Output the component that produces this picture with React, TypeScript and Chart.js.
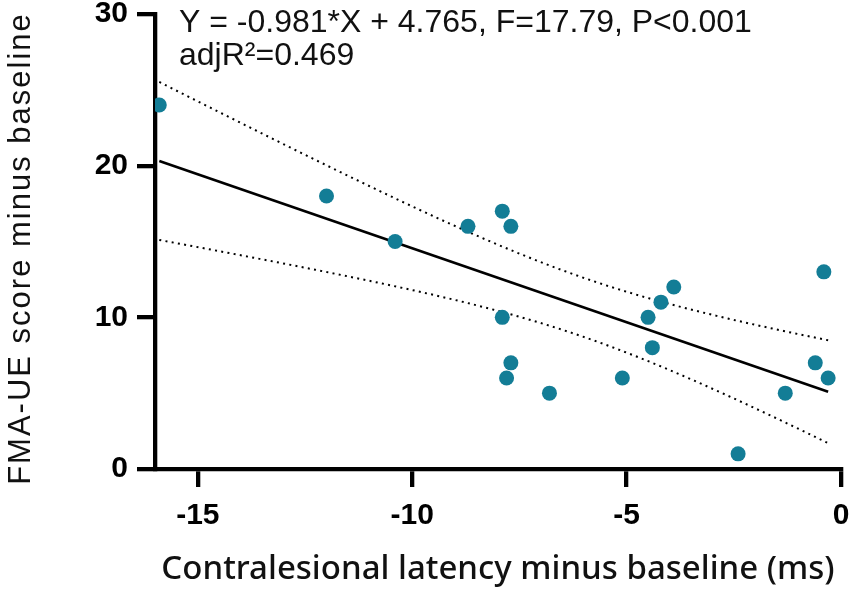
import React, { useEffect, useRef } from "react";
import { Chart, registerables } from "chart.js";

Chart.register(...registerables);

// Data
const latencyDiff: number[] = [
  -15.9, -12.0, -10.4, -8.7, -7.9, -7.7, -0.4, -3.9, -4.2, -4.5,
  -7.9, -4.4, -7.7, -0.6, -7.8, -5.1, -0.3, -6.8, -1.3, -2.4,
];
const fmaDiff: number[] = [
  24, 18, 15, 16, 17, 16, 13, 12, 11, 10,
  10, 8, 7, 7, 6, 6, 6, 5, 5, 1,
];
const xTicks: number[] = [-15, -10, -5, 0];
const yTicks: number[] = [0, 10, 20, 30];
const xRange: number[] = [-16, 0];
const yRange: number[] = [0, 30];
const annotationLines: string[] = [
  "Y = -0.981*X + 4.765, F=17.79, P<0.001",
  "adjR\u00B2=0.469",
];
const xTitle = "Contralesional latency minus baseline (ms)";
const yTitle = "FMA-UE score minus baseline";
const tCrit = 2.101; // t(0.975, df=18)

function regression(xs: number[], ys: number[]) {
  const n = xs.length;
  const mx = xs.reduce((a, b) => a + b, 0) / n;
  const my = ys.reduce((a, b) => a + b, 0) / n;
  let sxx = 0, sxy = 0;
  for (let i = 0; i < n; i++) {
    sxx += (xs[i] - mx) ** 2;
    sxy += (xs[i] - mx) * (ys[i] - my);
  }
  const slope = sxy / sxx;
  const intercept = my - slope * mx;
  let sse = 0;
  for (let i = 0; i < n; i++) sse += (ys[i] - (intercept + slope * xs[i])) ** 2;
  const s = Math.sqrt(sse / (n - 2));
  return { n, mx, sxx, slope, intercept, s };
}

const textPlugin = {
  id: "texts",
  afterDraw(chart: any) {
    const ctx = chart.ctx;
    const area = chart.chartArea;
    ctx.save();
    ctx.fillStyle = "#111";
    ctx.font = "32px 'Liberation Sans', Arial, sans-serif";
    ctx.textBaseline = "alphabetic";
    ctx.textAlign = "left";
    const x0 = area.left + 24;
    ctx.fillText(annotationLines[0], x0, 32);
    ctx.fillText(annotationLines[1], x0, 65);
    // y axis title
    ctx.translate(30, (area.top + area.bottom) / 2 + 7);
    ctx.rotate(-Math.PI / 2);
    ctx.textAlign = "center";
    ctx.font = "31px 'Liberation Sans', Arial, sans-serif";
    try {
      (ctx as any).letterSpacing = "2px";
    } catch (e) {}
    ctx.fillText(yTitle, 0, 0);
    ctx.restore();
  },
};

export default function App() {
  const ref = useRef<HTMLCanvasElement | null>(null);
  useEffect(() => {
    document.body.style.margin = "0";
    const canvas = ref.current!;
    const r = regression(latencyDiff, fmaDiff);
    const xmin = Math.min(...latencyDiff);
    const xmax = Math.max(...latencyDiff);
    const fit = [xmin, xmax].map((x) => ({ x, y: r.intercept + r.slope * x }));
    const upper: { x: number; y: number }[] = [];
    const lower: { x: number; y: number }[] = [];
    const steps = 60;
    for (let i = 0; i <= steps; i++) {
      const x = xmin + ((xmax - xmin) * i) / steps;
      const yhat = r.intercept + r.slope * x;
      const hw = tCrit * r.s * Math.sqrt(1 / r.n + (x - r.mx) ** 2 / r.sxx);
      upper.push({ x, y: yhat + hw });
      lower.push({ x, y: yhat - hw });
    }
    const points = latencyDiff.map((x, i) => ({ x, y: fmaDiff[i] }));

    const bandStyle = {
      type: "line",
      borderColor: "#000",
      borderWidth: 2,
      borderDash: [2, 4.3],
      pointRadius: 0,
      fill: false,
      order: 3,
    };

    const tickFont = { family: "'Liberation Sans', Arial, sans-serif", size: 30, weight: "bold", lineHeight: 1 };
    const gridStyle = {
      display: true,
      drawOnChartArea: false,
      drawTicks: true,
      lineWidth: 4.3,
      tickLength: 18,
      tickWidth: 4.3,
      tickColor: "#000",
      color: "#000",
    };

    const chart = new Chart(canvas, {
      type: "scatter",
      data: {
        datasets: [
          { ...bandStyle, data: upper } as any,
          { ...bandStyle, data: lower } as any,
          {
            type: "line",
            data: fit,
            borderColor: "#000",
            borderWidth: 2.6,
            pointRadius: 0,
            fill: false,
            order: 2,
          } as any,
          {
            data: points,
            backgroundColor: "#137d96",
            borderColor: "#137d96",
            pointRadius: 7.5,
            borderWidth: 0,
            order: 1,
          },
        ],
      },
      options: {
        responsive: false,
        animation: false,
        devicePixelRatio: 1,
        layout: { padding: { left: 0, right: 10, top: 14, bottom: 0 } },
        plugins: { legend: { display: false }, tooltip: { enabled: false } },
        scales: {
          x: {
            type: "linear",
            min: xRange[0],
            max: xRange[1],
            afterBuildTicks: (scale: any) => {
              scale.ticks = xTicks.map((v) => ({ value: v }));
            },
            afterFit: (scale: any) => {
              scale.height = 121;
              scale.paddingLeft = 0;
              scale.paddingRight = 0;
            },
            grid: gridStyle as any,
            border: { display: true, width: 4.3, color: "#000" },
            ticks: {
              color: "#000",
              padding: 14,
              maxRotation: 0,
              font: tickFont as any,
            },
            title: {
              display: true,
              text: xTitle,
              color: "#111",
              padding: { top: 0, bottom: 1 },
              font: { family: "'Noto Sans', sans-serif", size: 33, weight: "500", lineHeight: 1.2 },
            },
          },
          y: {
            type: "linear",
            min: yRange[0],
            max: yRange[1],
            afterBuildTicks: (scale: any) => {
              scale.ticks = yTicks.map((v) => ({ value: v }));
            },
            afterFit: (scale: any) => {
              scale.width = 155;
              scale.paddingTop = 0;
              scale.paddingBottom = 0;
            },
            grid: gridStyle as any,
            border: { display: true, width: 4.3, color: "#000" },
            ticks: {
              color: "#000",
              padding: 9,
              font: tickFont as any,
            },
          },
        },
      },
      plugins: [textPlugin],
    });
    return () => chart.destroy();
  }, []);
  return (
    <div style={{ position: "absolute", left: 0, top: 0, width: 851, height: 590, background: "#fff" }}>
      <canvas ref={ref} width={851} height={590} />
    </div>
  );
}
